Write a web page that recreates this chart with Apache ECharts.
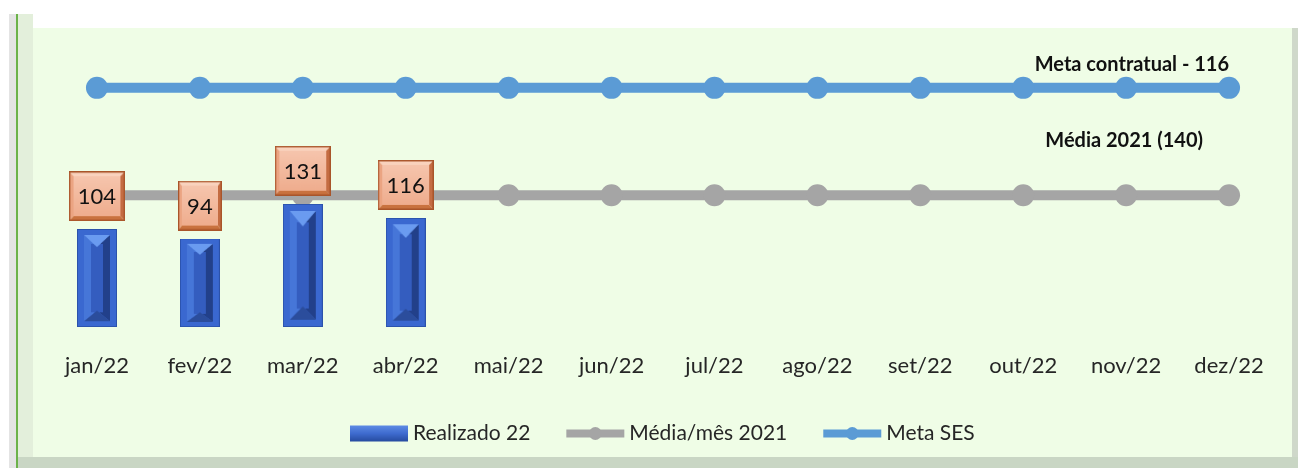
<!DOCTYPE html>
<html>
<head>
<meta charset="utf-8">
<script src="https://cdn.jsdelivr.net/npm/echarts@6/dist/echarts.min.js"></script>
<style>
  body { margin: 0; background: #fff; }
  #wrap { position: relative; width: 1298px; height: 468px; overflow: hidden; background: #fff; }
  .fr { position: absolute; }
  #chart { position: absolute; left: 0; top: 0; width: 1298px; height: 468px; }
</style>
</head>
<body>
<div id="wrap">
  <!-- moldura estilo Excel -->
  <div class="fr" style="left:9px;top:14px;width:7px;height:454px;background:#e4e4e4"></div>
  <div class="fr" style="left:16px;top:14px;width:2px;height:454px;background:#6cb24a"></div>
  <div class="fr" style="left:18px;top:14px;width:15px;height:443px;background:#e3efdb"></div>
  <div class="fr" style="left:1292px;top:28px;width:6px;height:440px;background:#cfd8ca"></div>
  <div class="fr" style="left:18px;top:457px;width:1280px;height:11px;background:#c9d6c4"></div>
  <div class="fr" style="left:33px;top:28px;width:1259px;height:429px;background:#effde6"></div>
  <div id="chart"></div>
</div>
<script>
// dados
const meses = ['jan/22', 'fev/22', 'mar/22', 'abr/22', 'mai/22', 'jun/22', 'jul/22', 'ago/22', 'set/22', 'out/22', 'nov/22', 'dez/22']
const realizado22 = [104, 94, 131, 116]
const media2021 = [140, 140, 140, 140, 140, 140, 140, 140, 140, 140, 140, 140]
const metaSES = [116, 116, 116, 116, 116, 116, 116, 116, 116, 116, 116, 116]

const FONT = 'Lato, "Open Sans", sans-serif'

// textura chanfrada da barra
function bevelBar () {
  const c = document.createElement('canvas')
  c.width = 40; c.height = 120
  const g = c.getContext('2d')
  g.fillStyle = '#3a68d0'; g.fillRect(0, 0, 40, 120)
  const poly = (pts, color) => {
    g.beginPath(); g.moveTo(pts[0][0], pts[0][1])
    for (let i = 1; i < pts.length; i++) g.lineTo(pts[i][0], pts[i][1])
    g.closePath(); g.fillStyle = color; g.fill()
  }
  poly([[7, 7], [20, 20], [20, 100], [7, 113]], '#4676d8')
  poly([[33, 7], [20, 20], [20, 100], [33, 113]], '#22408a')
  g.fillStyle = '#345dbf'; g.fillRect(14, 18, 12, 84)
  poly([[7, 7], [33, 7], [20, 22]], '#6a9bf0')
  poly([[7, 113], [33, 113], [20, 100]], '#2b4d9c')
  g.strokeStyle = '#2b52ab'; g.lineWidth = 1; g.strokeRect(0.5, 0.5, 39, 119)
  return c.toDataURL()
}

// fundo chanfrado dos rótulos
function bevelLabel () {
  const c = document.createElement('canvas')
  c.width = 60; c.height = 50
  const g = c.getContext('2d')
  const b = 5
  const poly = (pts, color) => {
    g.beginPath(); g.moveTo(pts[0][0], pts[0][1])
    for (let i = 1; i < pts.length; i++) g.lineTo(pts[i][0], pts[i][1])
    g.closePath(); g.fillStyle = color; g.fill()
  }
  poly([[0, 0], [60, 0], [60 - b, b], [b, b]], '#f9d2bd')
  poly([[0, 0], [b, b], [b, 50 - b], [0, 50]], '#eba482')
  poly([[60, 0], [60, 50], [60 - b, 50 - b], [60 - b, b]], '#c46c42')
  poly([[0, 50], [b, 50 - b], [60 - b, 50 - b], [60, 50]], '#c9723f')
  const grd = g.createLinearGradient(0, b, 0, 50 - b)
  grd.addColorStop(0, '#f6c5ad')
  grd.addColorStop(1, '#efad8e')
  g.fillStyle = grd; g.fillRect(b, b, 60 - 2 * b, 50 - 2 * b)
  g.strokeStyle = '#a9552a'; g.lineWidth = 1.5; g.strokeRect(0.75, 0.75, 58.5, 48.5)
  return c
}

const chart = echarts.init(document.getElementById('chart'))
const labelBg = bevelLabel()

const lastLabel = (arr, label) => arr.map((v, i) => i === arr.length - 1 ? { value: v, label: label } : v)

const option = {
  animation: false,
  backgroundColor: 'transparent',
  textStyle: { fontFamily: FONT },
  grid: { left: 45.5, right: 17.5, top: 26, bottom: 141 },
  legend: {
    left: 345,
    top: 418,
    itemWidth: 58,
    itemHeight: 16,
    itemGap: 32,
    lineStyle: { width: 8 },
    textStyle: { fontSize: 21, color: '#262626', fontFamily: FONT },
    data: [
      {
        name: 'Realizado 22',
        icon: 'rect',
        itemStyle: {
          color: new echarts.graphic.LinearGradient(0, 0, 0, 1, [
            { offset: 0, color: '#5d8be4' },
            { offset: 0.5, color: '#3e6bcf' },
            { offset: 1, color: '#264b9f' }
          ])
        }
      },
      { name: 'Média/mês 2021' },
      { name: 'Meta SES' }
    ]
  },
  xAxis: {
    type: 'category',
    data: meses,
    boundaryGap: true,
    axisLine: { show: false },
    axisTick: { show: false },
    axisLabel: { fontSize: 22, color: '#262626', margin: 28, fontFamily: FONT }
  },
  yAxis: [
    { type: 'value', min: 0, max: 320, show: false },
    { type: 'value', min: 0, max: 146, show: false }
  ],
  series: [
    {
      name: 'Média/mês 2021',
      type: 'line',
      z: 2,
      data: lastLabel(media2021, {
        show: true,
        position: 'top',
        align: 'right',
        offset: [-26, -29],
        formatter: 'Média 2021 (140)',
        fontSize: 20,
        fontWeight: 'bold',
        color: '#111'
      }),
      symbol: 'circle',
      symbolSize: 22,
      lineStyle: { color: '#a5a5a5', width: 10 },
      itemStyle: { color: '#a5a5a5' }
    },
    {
      name: 'Meta SES',
      type: 'line',
      yAxisIndex: 1,
      z: 2,
      data: lastLabel(metaSES, {
        show: true,
        position: 'top',
        align: 'right',
        offset: [0, 3],
        formatter: 'Meta contratual - 116',
        fontSize: 20,
        fontWeight: 'bold',
        color: '#111'
      }),
      symbol: 'circle',
      symbolSize: 22,
      lineStyle: { color: '#5b9bd5', width: 10 },
      itemStyle: { color: '#5b9bd5' }
    },
    {
      name: 'Realizado 22',
      type: 'pictorialBar',
      z: 3,
      data: realizado22,
      barWidth: 40,
      symbol: 'image://' + bevelBar(),
      symbolSize: ['100%', '100%'],
      symbolRepeat: false,
      itemStyle: { color: '#3c6bd2' },
      label: {
        show: true,
        position: 'top',
        distance: 8,
        fontSize: 22,
        color: '#111',
        fontFamily: FONT,
        padding: [15, 9, 13, 9],
        backgroundColor: { image: labelBg }
      }
    }
  ]
}

chart.setOption(option)
</script>
</body>
</html>
